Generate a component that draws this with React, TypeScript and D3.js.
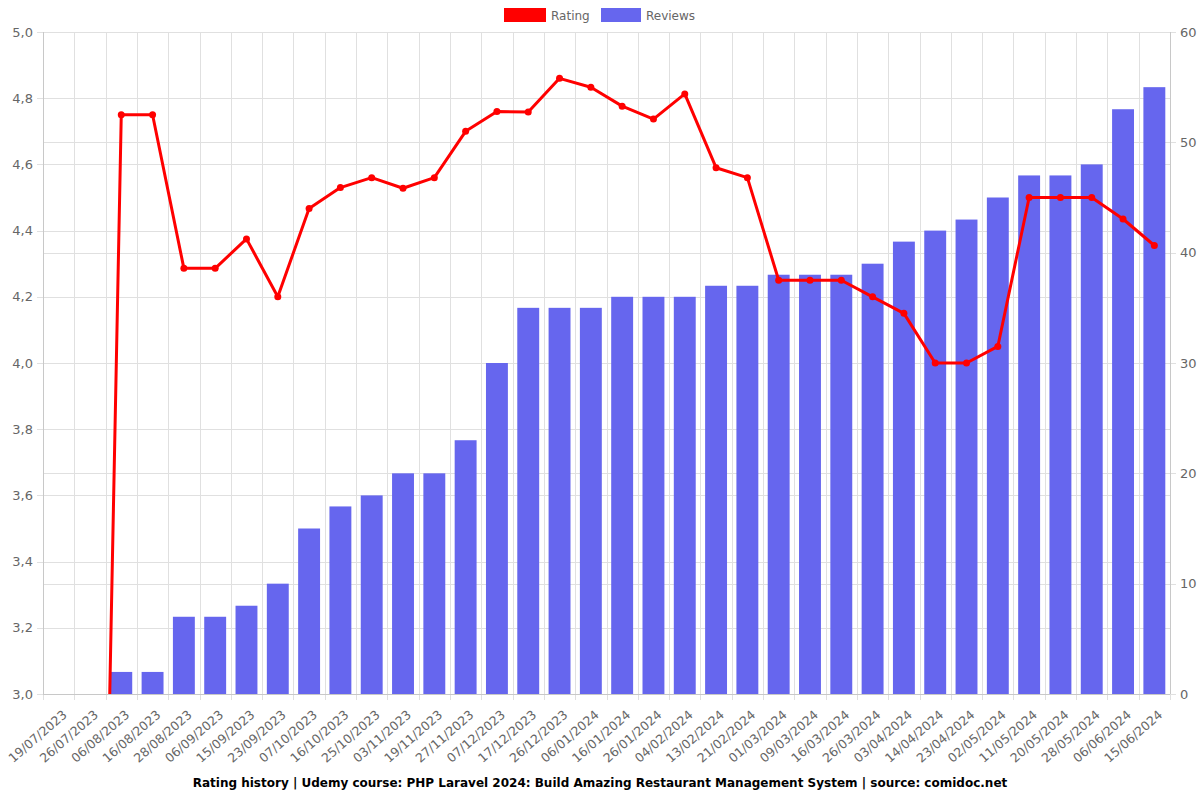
import React, { useEffect, useRef } from "react";
import * as d3 from "d3";

const dates = [
  "19/07/2023", "26/07/2023", "06/08/2023", "16/08/2023", "28/08/2023", "06/09/2023",
  "15/09/2023", "23/09/2023", "07/10/2023", "16/10/2023", "25/10/2023", "03/11/2023",
  "19/11/2023", "27/11/2023", "07/12/2023", "17/12/2023", "26/12/2023", "06/01/2024",
  "16/01/2024", "26/01/2024", "04/02/2024", "13/02/2024", "21/02/2024", "01/03/2024",
  "09/03/2024", "16/03/2024", "26/03/2024", "03/04/2024", "14/04/2024", "23/04/2024",
  "02/05/2024", "11/05/2024", "20/05/2024", "28/05/2024", "06/06/2024", "15/06/2024",
];

const reviews = [
  0, 0, 2, 2, 7, 7, 8, 10, 15, 17, 18, 20, 20, 23, 30, 35, 35, 35,
  36, 36, 36, 37, 37, 38, 38, 38, 39, 41, 42, 43, 45, 47, 47, 48, 53, 55,
];

const ratings = [
  0, 0, 4.75, 4.75, 4.286, 4.286, 4.375, 4.2, 4.467, 4.53, 4.56, 4.528,
  4.56, 4.7, 4.76, 4.758, 4.86, 4.833, 4.776, 4.737, 4.813, 4.59,
  4.56, 4.25, 4.25, 4.25, 4.2, 4.15, 4.0, 4.0, 4.05, 4.5,
  4.5, 4.5, 4.435, 4.355,
];

const leftTicks = [3.0, 3.2, 3.4, 3.6, 3.8, 4.0, 4.2, 4.4, 4.6, 4.8, 5.0];
const rightTicks = [0, 10, 20, 30, 40, 50, 60];

const title =
  "Rating history | Udemy course: PHP Laravel 2024: Build Amazing Restaurant Management System | source: comidoc.net";

export default function App() {
  const ref = useRef<SVGSVGElement>(null);

  useEffect(() => {
    const svg = d3.select(ref.current);
    svg.selectAll("*").remove();
    const W = 1200, H = 800;
    const m = { left: 43, right: 1170, top: 32, bottom: 694 };
    const font = "DejaVu Sans, sans-serif";
    const grid = "#e0e0e0";

    const x = d3.scaleBand<string>().domain(dates).range([m.left, m.right]).paddingInner(0).paddingOuter(0);
    const yL = d3.scaleLinear().domain([3, 5]).range([m.bottom, m.top]);
    const yR = d3.scaleLinear().domain([0, 60]).range([m.bottom, m.top]);

    svg.append("rect").attr("width", W).attr("height", H).attr("fill", "#fff");

    const clip = svg.append("defs").append("clipPath").attr("id", "plotclip");
    clip.append("rect").attr("x", m.left).attr("y", m.top).attr("width", m.right - m.left).attr("height", m.bottom - m.top);

    const g = svg.append("g");
    const boundaries = dates.map((d) => x(d) as number).concat([m.right]);
    g.selectAll("line.vg").data(boundaries).enter().append("line")
      .attr("x1", (d) => Math.round(d) + 0.5).attr("x2", (d) => Math.round(d) + 0.5)
      .attr("y1", m.top).attr("y2", m.bottom + 6)
      .attr("stroke", grid).attr("stroke-width", 1);
    g.selectAll("line.hl").data(leftTicks).enter().append("line")
      .attr("x1", m.left - 6).attr("x2", m.right)
      .attr("y1", (d) => Math.round(yL(d)) + 0.5).attr("y2", (d) => Math.round(yL(d)) + 0.5)
      .attr("stroke", grid);
    g.selectAll("line.hr").data(rightTicks).enter().append("line")
      .attr("x1", m.left).attr("x2", m.right + 6)
      .attr("y1", (d) => Math.round(yR(d)) + 0.5).attr("y2", (d) => Math.round(yR(d)) + 0.5)
      .attr("stroke", grid);

    g.append("line").attr("x1", m.left + 0.5).attr("x2", m.left + 0.5).attr("y1", m.top).attr("y2", m.bottom).attr("stroke", "#c8c8c8");
    g.append("line").attr("x1", m.right + 0.5).attr("x2", m.right + 0.5).attr("y1", m.top).attr("y2", m.bottom).attr("stroke", "#c8c8c8");
    g.append("line").attr("x1", m.left).attr("x2", m.right).attr("y1", m.bottom + 0.5).attr("y2", m.bottom + 0.5).attr("stroke", "#c8c8c8");

    g.selectAll("text.yl").data(leftTicks).enter().append("text")
      .attr("x", m.left - 10).attr("y", (d) => yL(d)).attr("dy", "0.35em")
      .attr("text-anchor", "end").attr("font-family", font).attr("font-size", 13).attr("fill", "#666")
      .text((d) => d.toFixed(1).replace(".", ","));
    g.selectAll("text.yr").data(rightTicks).enter().append("text")
      .attr("x", m.right + 10).attr("y", (d) => yR(d)).attr("dy", "0.35em")
      .attr("text-anchor", "start").attr("font-family", font).attr("font-size", 13).attr("fill", "#666")
      .text((d) => String(d));

    const bw = x.bandwidth() * 0.7;
    g.selectAll("rect.bar").data(dates).enter().append("rect")
      .attr("x", (d) => (x(d) as number) + (x.bandwidth() - bw) / 2)
      .attr("y", (d, i) => yR(reviews[i]))
      .attr("width", bw)
      .attr("height", (d, i) => m.bottom - yR(reviews[i]))
      .attr("fill", "#6666ee");

    const cx = (i: number) => (x(dates[i]) as number) + x.bandwidth() / 2;
    const line = d3.line<number>().x((d, i) => cx(i)).y((d) => yL(d));
    const lg = svg.append("g").attr("clip-path", "url(#plotclip)");
    lg.append("path").datum(ratings).attr("d", line).attr("fill", "none")
      .attr("stroke", "#ff0000").attr("stroke-width", 3).attr("stroke-linejoin", "round");
    lg.selectAll("circle").data(ratings).enter().append("circle")
      .attr("cx", (d, i) => cx(i)).attr("cy", (d) => yL(d)).attr("r", 3.5).attr("fill", "#ff0000");

    g.selectAll("text.xl").data(dates).enter().append("text")
      .attr("transform", (d) => `translate(${(x(d) as number) + x.bandwidth() / 2 + 9},${m.bottom + 22}) rotate(-41)`)
      .attr("text-anchor", "end").attr("font-family", font).attr("font-size", 12.5).attr("fill", "#666")
      .text((d) => d);

    const leg = svg.append("g");
    leg.append("rect").attr("x", 504).attr("y", 8).attr("width", 42).attr("height", 14).attr("fill", "#ff0000");
    leg.append("text").attr("x", 551).attr("y", 16).attr("dy", "0.35em").attr("font-family", font).attr("font-size", 12).attr("fill", "#666").text("Rating");
    leg.append("rect").attr("x", 601).attr("y", 8).attr("width", 40).attr("height", 14).attr("fill", "#6666ee");
    leg.append("text").attr("x", 646).attr("y", 16).attr("dy", "0.35em").attr("font-family", font).attr("font-size", 12).attr("fill", "#666").text("Reviews");

    svg.append("text").attr("x", 600).attr("y", 783).attr("dy", "0.35em").attr("text-anchor", "middle")
      .attr("font-family", font).attr("font-size", 12).attr("font-weight", "bold").attr("fill", "#000").text(title);
  }, []);

  return (
    <svg ref={ref} width={1200} height={800} style={{ position: "absolute", left: 0, top: 0 }} />
  );
}
